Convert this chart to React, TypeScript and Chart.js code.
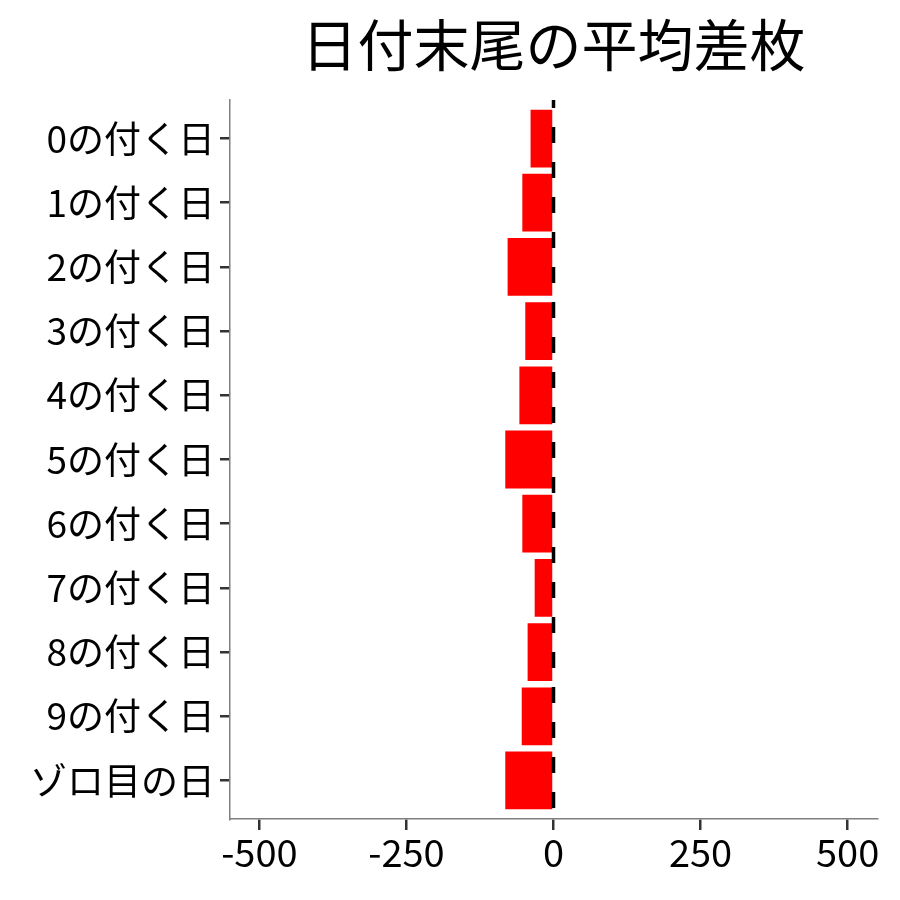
import React, { useEffect, useRef } from "react";
import { Chart, registerables } from "chart.js";

Chart.register(...registerables);

const titleText = "日付末尾の平均差枚";
const categories = [
  "0の付く日",
  "1の付く日",
  "2の付く日",
  "3の付く日",
  "4の付く日",
  "5の付く日",
  "6の付く日",
  "7の付く日",
  "8の付く日",
  "9の付く日",
  "ゾロ目の日",
];
const avgDiff = [-39, -53, -78, -48, -58, -82, -53, -32, -44, -54, -82];
const xTicks = [-500, -250, 0, 250, 500];

const FONT = "'Noto Sans CJK JP', 'Noto Sans', sans-serif";

// title centred over the panel, like ggplot does
const panelTitle = {
  id: "panelTitle",
  afterDraw(chart: any) {
    const { ctx, chartArea } = chart;
    ctx.save();
    ctx.font = `56px ${FONT}`;
    ctx.fillStyle = "#000";
    ctx.textAlign = "center";
    ctx.textBaseline = "middle";
    ctx.fillText(titleText, (chartArea.left + chartArea.right) / 2, 45);
    ctx.restore();
  },
};

// dashed reference line at x = 0
const zeroLine = {
  id: "zeroLine",
  afterDatasetsDraw(chart: any) {
    const { ctx, chartArea } = chart;
    const x = chart.scales.x.getPixelForValue(0);
    ctx.save();
    ctx.strokeStyle = "#000";
    ctx.lineWidth = 3.5;
    ctx.setLineDash([16, 19]);
    ctx.lineDashOffset = 8;
    ctx.beginPath();
    ctx.moveTo(x, chartArea.top);
    ctx.lineTo(x, chartArea.bottom);
    ctx.stroke();
    ctx.restore();
  },
};

const App = () => {
  const canvasRef = useRef<HTMLCanvasElement | null>(null);

  useEffect(() => {
    document.body.style.margin = "0";
    if (!canvasRef.current) return;
    const ctx = canvasRef.current.getContext("2d");
    if (!ctx) return;

    const chart = new Chart(ctx, {
      type: "bar",
      data: {
        datasets: [
          {
            data: avgDiff.map((v, i) => ({ x: v, y: i })),
            backgroundColor: "#FF0000",
            borderWidth: 0,
            barPercentage: 0.9,
            categoryPercentage: 1,
          },
        ],
      },
      options: {
        indexAxis: "y",
        animation: false,
        responsive: false,
        layout: { padding: { top: 100, right: 23, left: 0, bottom: 0 } },
        plugins: {
          legend: { display: false },
          tooltip: { enabled: false },
          title: { display: false },
        },
        scales: {
          x: {
            type: "linear",
            min: -550,
            max: 550,
            afterBuildTicks: (scale: any) => {
              scale.ticks = xTicks.map((v) => ({ value: v }));
            },
            afterFit: (scale: any) => {
              scale.height = 81;
            },
            border: { color: "#7f7f7f", width: 1.5 },
            grid: {
              drawOnChartArea: false,
              color: "#333333",
              lineWidth: 2.5,
              tickLength: 11,
            },
            ticks: {
              font: { family: FONT, size: 38 },
              color: "#000",
              padding: 0,
              maxRotation: 0,
            },
          },
          y: {
            type: "linear",
            min: -0.6,
            max: categories.length - 0.4,
            reverse: true,
            offset: false,
            afterBuildTicks: (scale: any) => {
              scale.ticks = categories.map((_, i) => ({ value: i }));
            },
            afterFit: (scale: any) => {
              scale.width = 230;
            },
            border: { color: "#7f7f7f", width: 1.5 },
            grid: {
              offset: false,
              drawOnChartArea: false,
              color: "#333333",
              lineWidth: 2.5,
              tickLength: 10,
            },
            ticks: {
              font: { family: FONT, size: 37 },
              color: "#000",
              padding: 5,
              callback: (v: any) => categories[v as number] ?? "",
            },
          },
        },
      },
      plugins: [panelTitle, zeroLine],
    });

    return () => {
      chart.destroy();
    };
  }, []);

  return (
    <div style={{ width: 900, height: 900 }}>
      <canvas ref={canvasRef} width={900} height={900} />
    </div>
  );
};

export default App;
